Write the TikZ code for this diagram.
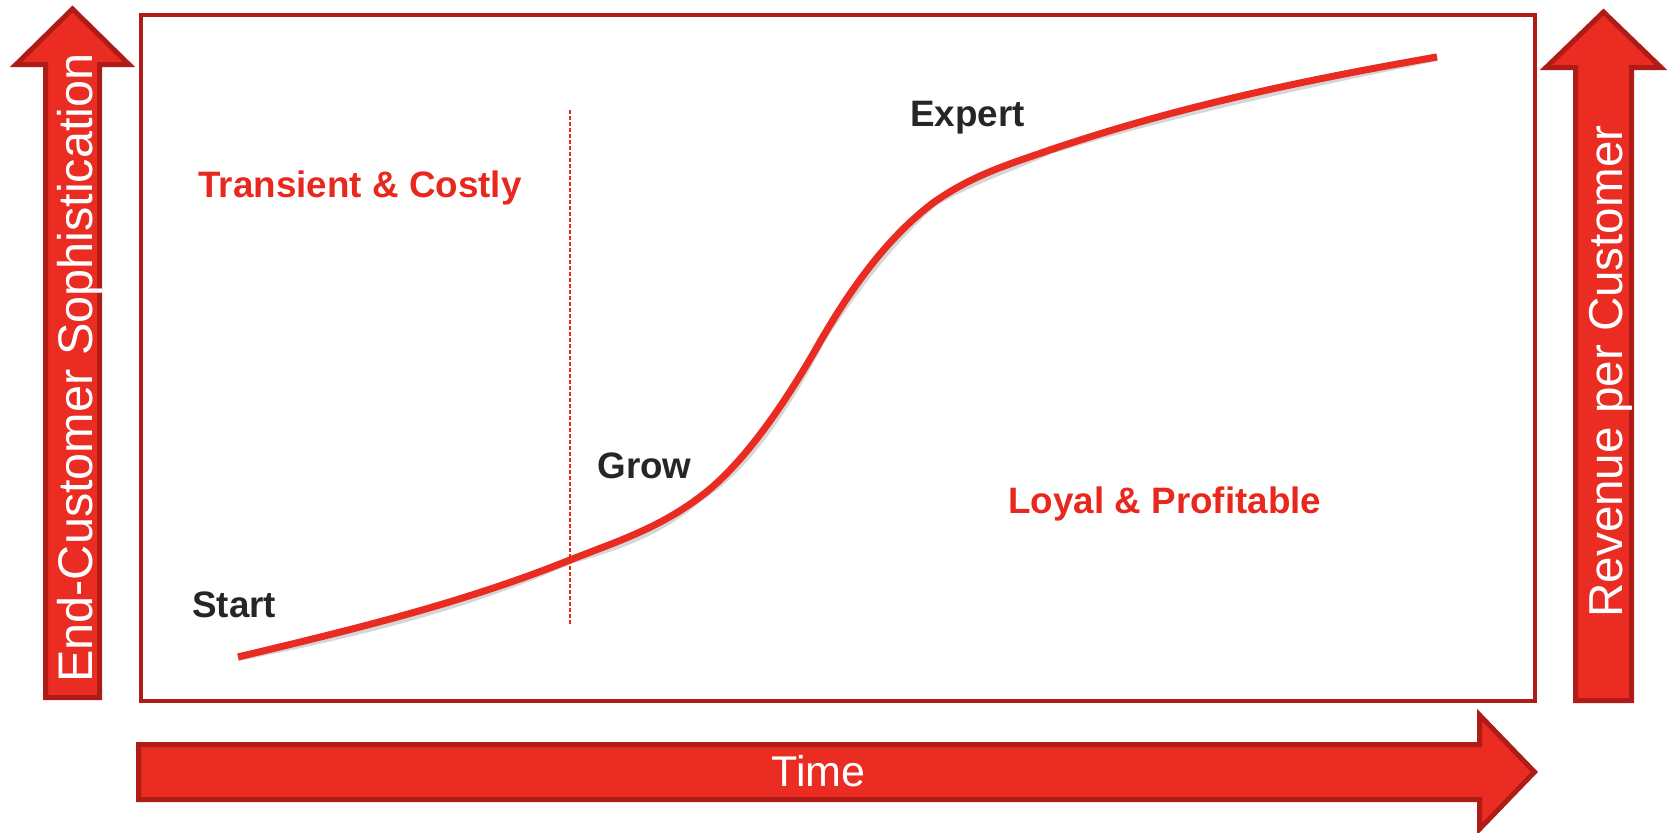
\documentclass[tikz,border=0pt]{standalone}
\usepackage{fontspec}
\setmainfont{Liberation Sans}
\definecolor{arrowfill}{HTML}{EA2C22}
\definecolor{arrowedge}{HTML}{AF1C18}
\definecolor{labelred}{HTML}{E8281F}
\definecolor{labeldark}{HTML}{262626}
\definecolor{curvered}{HTML}{EA2B22}
\begin{document}
\begin{tikzpicture}[x=0.5pt,y=-0.5pt,
  bigarrow/.style={fill=arrowfill, draw=arrowedge, line width=2.5pt, line join=miter},
  frame/.style={draw=arrowedge, line width=2pt},
  redlabel/.style={text=labelred, font=\bfseries\fontsize{18.4pt}{20pt}\selectfont, inner sep=0pt, anchor=base west},
  darklabel/.style={text=labeldark, font=\bfseries\fontsize{18.4pt}{20pt}\selectfont, inner sep=0pt, anchor=base west},
  arrowtext/.style={text=white, font=\fontsize{23.8pt}{26pt}\selectfont, inner sep=0pt, anchor=base}]
\useasboundingbox (0,0) rectangle (1671,832);
% frame
\draw[frame] (141,15) rectangle (1535,701);
% left arrow
\draw[bigarrow] (72.5,9) -- (129,64.5) -- (99.5,64.5) -- (99.5,697.5) -- (45.5,697.5) -- (45.5,64.5) -- (16,64.5) -- cycle;
% right arrow
\draw[bigarrow] (1603.5,12) -- (1661,67.5) -- (1631.5,67.5) -- (1631.5,700.5) -- (1575.5,700.5) -- (1575.5,67.5) -- (1546,67.5) -- cycle;
% bottom arrow
\draw[bigarrow] (138.5,744.5) -- (1479.5,744.5) -- (1479.5,715) -- (1534.5,772) -- (1479.5,829) -- (1479.5,799.5) -- (138.5,799.5) -- cycle;
% arrow texts
\node[arrowtext, rotate=90, font=\fontsize{24.3pt}{26pt}\selectfont] (ylabel) at (92,368) {End-Customer Sophistication};
\node[arrowtext, rotate=90] (rlabel) at (1622,371.5) {Revenue per Customer};
\node[arrowtext, font=\fontsize{21.5pt}{24pt}\selectfont] (tlabel) at (818.5,786) {Time};
% dashed divider
\draw[labelred, line width=0.8pt, dash pattern=on 2pt off 1pt] (570,110) -- (570,624);
% curve
\coordinate (p0) at (238,657);
\coordinate (p1) at (570,560);
\coordinate (p2) at (700,497);
\coordinate (p3) at (820,342);
\coordinate (p4) at (933,203);
\coordinate (p5) at (1050,150);
\coordinate (p6) at (1437,57);
\def\scurve{(p0) .. controls (348.7,630.4) and (459.3,604.3) .. (p1)
  .. controls (613.3,542.7) and (656.7,529.5) .. (p2)
  .. controls (740,467) and (780,412) .. (p3)
  .. controls (857.7,276) and (895.3,231.3) .. (p4)
  .. controls (972,174.9) and (1011,163.5) .. (p5)
  .. controls (1179,106) and (1310,79) .. (p6)}
\begin{scope}[shift={(2,4)}]
\draw[black, opacity=0.16, line width=4pt] \scurve;
\end{scope}
\draw[curvered, line width=3.5pt] \scurve;
% labels
\node[redlabel] (transient) at (198,197) {Transient \& Costly};
\node[redlabel] (loyal) at (1008,513) {Loyal \& Profitable};
\node[darklabel] (start) at (192,617) {Start};
\node[darklabel] (grow) at (597,478) {Grow};
\node[darklabel] (expert) at (910,126) {Expert};
\end{tikzpicture}
\end{document}
